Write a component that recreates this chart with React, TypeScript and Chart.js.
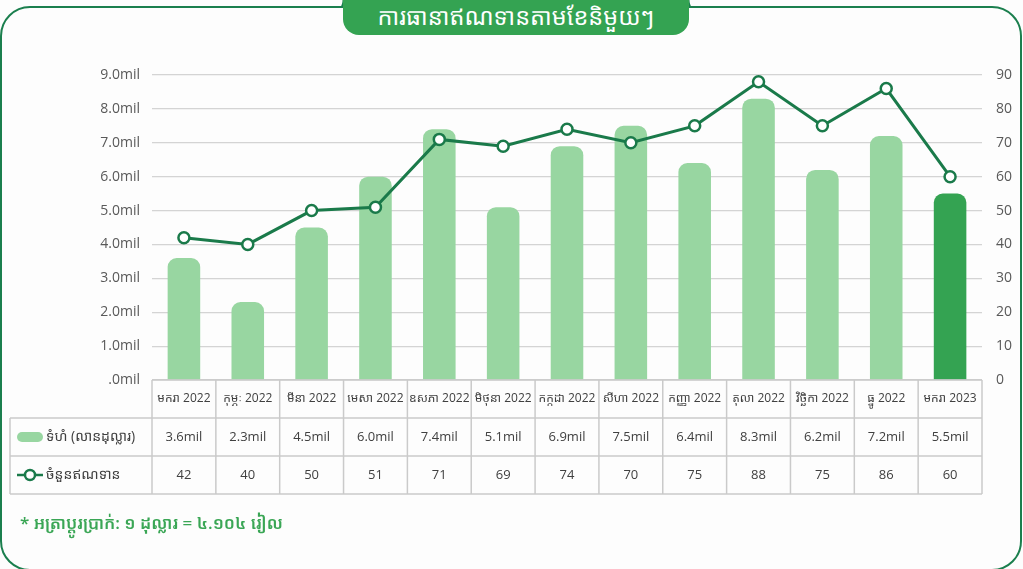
import React, { useEffect, useRef } from 'react';
import { Chart, registerables } from 'chart.js';

Chart.register(...registerables);

const TITLE = 'ការធានាឥណទានតាមខែនិមួយៗ';
const BAR_LABEL = 'ទំហំ (លានដុល្លារ)';
const LINE_LABEL = 'ចំនួនឥណទាន';
const NOTE = '* អត្រាប្តូរប្រាក់: ១ ដុល្លារ = ៤.១០៤ រៀល';

const categories = [
  'មករា 2022', 'កុម្ភៈ 2022', 'មីនា 2022', 'មេសា 2022', 'ឧសភា 2022', 'មិថុនា 2022',
  'កក្កដា 2022', 'សីហា 2022', 'កញ្ញា 2022', 'តុលា 2022', 'វិច្ឆិកា 2022', 'ធ្នូ 2022', 'មករា 2023',
];
const volumeMil = [3.6, 2.3, 4.5, 6.0, 7.4, 5.1, 6.9, 7.5, 6.4, 8.3, 6.2, 7.2, 5.5];
const loanCount = [42, 40, 50, 51, 71, 69, 74, 70, 75, 88, 75, 86, 60];
const leftMax = 9;
const rightMax = 90;

const FONT = '"Open Sans", "Noto Sans Khmer", "Noto Sans", sans-serif';
const LIGHT = '#98d6a1';
const DARK_BAR = '#34a352';
const LINE = '#1a7a4a';
const BORDER = '#1b7f4e';
const TEXT = '#404040';

const barColors = volumeMil.map((_, i) => (i === volumeMil.length - 1 ? DARK_BAR : LIGHT));

const tablePlugin = {
  id: 'dataTable',
  afterDraw(chart: any) {
    const ctx = chart.ctx as CanvasRenderingContext2D;
    const xs = chart.scales.x;
    const area = chart.chartArea;
    const n = categories.length;
    const colW = (area.right - area.left) / n;
    const top = area.bottom;
    const rowH = 38;
    const leftEdge = 10;
    ctx.save();
    ctx.strokeStyle = '#cacaca';
    ctx.lineWidth = 1.5;
    const hl = (x1: number, x2: number, y: number) => {
      ctx.beginPath(); ctx.moveTo(x1, y); ctx.lineTo(x2, y); ctx.stroke();
    };
    const vl = (x: number, y1: number, y2: number) => {
      ctx.beginPath(); ctx.moveTo(x, y1); ctx.lineTo(x, y2); ctx.stroke();
    };
    hl(area.left, area.right, top);
    hl(leftEdge, area.right, top + rowH);
    hl(leftEdge, area.right, top + 2 * rowH);
    hl(leftEdge, area.right, top + 3 * rowH);
    vl(leftEdge, top + rowH, top + 3 * rowH);
    for (let i = 0; i < n; i++) {
      const cx = xs.getPixelForValue(i);
      vl(cx - colW / 2, top, top + 3 * rowH);
      if (i === n - 1) vl(cx + colW / 2, top, top + 3 * rowH);
    }
    ctx.fillStyle = TEXT;
    ctx.textAlign = 'center';
    ctx.textBaseline = 'middle';
    for (let i = 0; i < n; i++) {
      const cx = xs.getPixelForValue(i);
      ctx.font = `12px ${FONT}`;
      ctx.fillText(categories[i], cx, top + rowH / 2);
      ctx.font = `13px ${FONT}`;
      ctx.fillText(volumeMil[i].toFixed(1) + 'mil', cx, top + rowH * 1.5);
      ctx.fillText(String(loanCount[i]), cx, top + rowH * 2.5);
    }
    // legend keys
    const y1 = top + rowH * 1.5;
    const y2 = top + rowH * 2.5;
    ctx.fillStyle = LIGHT;
    ctx.beginPath();
    (ctx as any).roundRect(17, y1 - 5, 26, 10, 5);
    ctx.fill();
    ctx.strokeStyle = LINE;
    ctx.lineWidth = 2.5;
    hl(17, 43, y2);
    ctx.beginPath();
    ctx.arc(30, y2, 5, 0, Math.PI * 2);
    ctx.fillStyle = '#fff';
    ctx.fill();
    ctx.stroke();
    ctx.fillStyle = TEXT;
    ctx.textAlign = 'left';
    ctx.font = `14px ${FONT}`;
    ctx.fillText(BAR_LABEL, 46, y1);
    ctx.fillText(LINE_LABEL, 46, y2);
    ctx.restore();
  },
};

function App() {
  const ref = useRef<HTMLCanvasElement>(null);
  useEffect(() => {
    if (!ref.current) return;
    const chart = new Chart(ref.current, {
      type: 'bar',
      data: {
        labels: categories,
        datasets: [
          {
            type: 'line',
            label: LINE_LABEL,
            data: loanCount,
            yAxisID: 'y1',
            borderColor: LINE,
            borderWidth: 3,
            pointRadius: 5.5,
            pointBorderWidth: 2.5,
            pointBackgroundColor: '#fff',
            pointBorderColor: LINE,
            tension: 0,
            order: 0,
          } as any,
          {
            type: 'bar',
            label: BAR_LABEL,
            data: volumeMil,
            yAxisID: 'y',
            backgroundColor: barColors,
            borderRadius: { topLeft: 9, topRight: 9, bottomLeft: 0, bottomRight: 0 },
            borderSkipped: 'bottom',
            barPercentage: 0.51,
            categoryPercentage: 1,
            order: 1,
          } as any,
        ],
      },
      options: {
        responsive: false,
        animation: false,
        layout: { padding: { top: 75, bottom: 189, left: 0, right: 0 } },
        plugins: { legend: { display: false }, tooltip: { enabled: false } },
        scales: {
          x: { display: false, offset: true },
          y: {
            position: 'left',
            min: 0,
            max: leftMax,
            ticks: {
              stepSize: 1,
              color: '#595959',
              padding: 12,
              font: { family: FONT, size: 14 },
              callback: (v: any) => (v === 0 ? '.0mil' : Number(v).toFixed(1) + 'mil'),
            },
            grid: { color: '#d4d4d4', lineWidth: 1.2, drawTicks: false },
            border: { display: false },
            afterFit: (s: any) => { s.width = 152; },
          },
          y1: {
            position: 'right',
            min: 0,
            max: rightMax,
            ticks: { stepSize: 10, color: '#595959', padding: 14, font: { family: FONT, size: 14 } },
            grid: { display: false, drawTicks: false },
            border: { display: false },
            afterFit: (s: any) => { s.width = 41; },
          },
        },
      },
      plugins: [tablePlugin],
    });
    return () => chart.destroy();
  }, []);

  return (
    <div style={{ position: 'absolute', left: 0, top: 0, width: 1023, height: 569, overflow: 'hidden', background: '#fdfdfd' }}>
      <div style={{ position: 'absolute', left: 0, top: 6, width: 1022, height: 565, boxSizing: 'border-box', border: `2.5px solid ${BORDER}`, borderRadius: 30 }} />
      <div style={{ position: 'absolute', left: 329, top: 0, width: 15, height: 8, background: `radial-gradient(circle at 0 0, transparent 13px, ${BORDER} 14px)` }} />
      <div style={{ position: 'absolute', left: 688, top: 0, width: 15, height: 8, background: `radial-gradient(circle at 100% 0, transparent 13px, ${BORDER} 14px)` }} />
      <div style={{ position: 'absolute', left: 343, top: 0, width: 346, height: 35, background: '#34a352', borderRadius: '0 0 16px 16px', color: '#fff', fontFamily: FONT, fontSize: 23.5, lineHeight: '32px', textAlign: 'center', whiteSpace: 'nowrap' }}>{TITLE}</div>
      <canvas ref={ref} width={1023} height={569} style={{ position: 'absolute', left: 0, top: 0 }} />
      <div style={{ position: 'absolute', left: 20, top: 511, color: '#3aa655', fontFamily: FONT, fontSize: 17, fontWeight: 600, whiteSpace: 'nowrap' }}>{NOTE}</div>
    </div>
  );
}

export default App;
